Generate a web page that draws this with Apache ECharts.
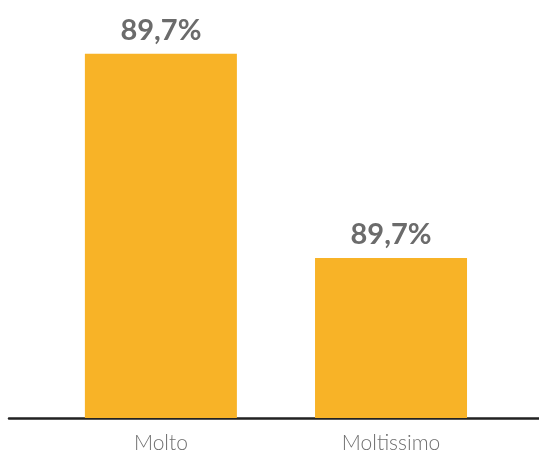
<!DOCTYPE html>
<html>
<head>
<meta charset="utf-8">
<script src="https://cdn.jsdelivr.net/npm/echarts@6/dist/echarts.min.js"></script>
<style>
  html, body { margin: 0; padding: 0; background: #ffffff; }
  #chart { width: 539px; height: 452px; }
</style>
</head>
<body>
<div id="chart"></div>
<script>
// Answer categories and their bar values
const categories = ['Molto', 'Moltissimo'];
const values = [89.7, 39.4];
// Text printed above each bar
const barLabels = ['89,7%', '89,7%'];

const chart = echarts.init(document.getElementById('chart'), null, { renderer: 'canvas' });

chart.setOption({
  animation: false,
  backgroundColor: '#ffffff',
  grid: { left: 9, right: 0, top: 12, bottom: 34, outerBoundsMode: 'none' },
  xAxis: {
    type: 'value',
    min: -0.66,
    max: 1.643,
    splitLine: { show: false },
    axisTick: { show: false },
    axisLine: { show: true, onZero: false, lineStyle: { color: '#222222', width: 2.5 } },
    axisLabel: {
      customValues: categories.map((_, i) => i),
      formatter: v => categories[Math.round(v)] || '',
      color: '#6f6f6f',
      fontFamily: 'Lato',
      fontWeight: 300,
      fontSize: 21,
      margin: 15
    }
  },
  yAxis: {
    type: 'value',
    min: 0,
    max: 100,
    show: false
  },
  series: [{
    type: 'bar',
    barWidth: 152,
    data: values.map((v, i) => [i, v]),
    itemStyle: { color: '#F8B327' },
    label: {
      show: true,
      position: 'top',
      distance: 9,
      formatter: p => barLabels[p.dataIndex],
      color: '#6b6b6b',
      fontFamily: 'Lato',
      fontWeight: 'bold',
      fontSize: 29
    }
  }]
});
</script>
</body>
</html>
